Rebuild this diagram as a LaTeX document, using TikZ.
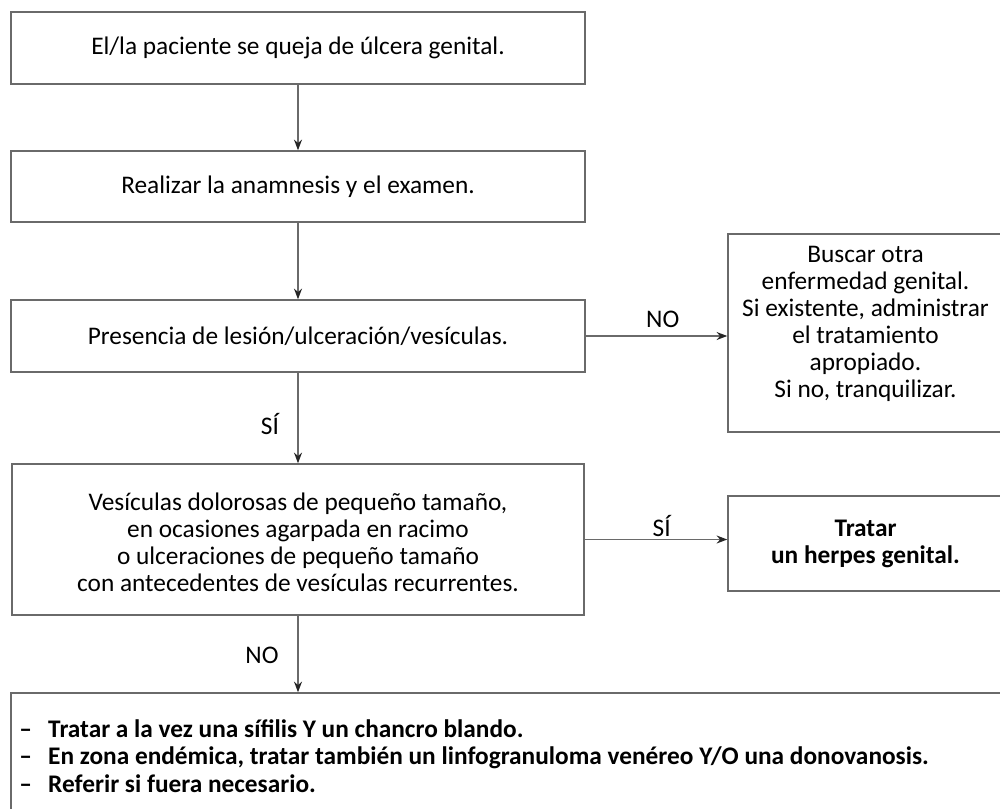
\documentclass[tikz,border=0pt]{standalone}
\usepackage{fontspec}
\setmainfont{Carlito}
\usetikzlibrary{arrows.meta}
\definecolor{edgegray}{HTML}{6A6A6A}
\tikzset{
  box/.style={draw=edgegray, line width=1.1pt, align=center, inner sep=0pt,
    font=\fontsize{19}{20.3}\selectfont},
  arrow/.style={draw=edgegray, line width=1.1pt, -{Stealth[length=8pt,width=6pt,color=black!85]}},
  lbl/.style={font=\fontsize{19}{20}\selectfont, inner sep=0pt},
}
\begin{document}
\begin{tikzpicture}[x=0.75pt,y=-0.75pt]
    \useasboundingbox (0,0) rectangle (1000,808);
    \node[box, minimum width=430.5pt, minimum height=54pt] (queja) at (298,48) {El/la paciente se queja de úlcera genital.};
    \node[box, minimum width=430.5pt, minimum height=53.25pt] (examen) at (298,186.5) {Realizar la anamnesis y el examen.};
    \node[box, minimum width=430.5pt, minimum height=54pt] (lesion) at (298,336) {Presencia de lesión/ulceración/vesículas.};
    \node[box, minimum width=429pt, minimum height=113.25pt] (vesic) at (298,539.5) {};
    \node[align=center, inner sep=0pt, font=\fontsize{19}{20.3}\selectfont] (vesictxt) at (298,542) {Vesículas dolorosas de pequeño tamaño,\\ en ocasiones agarpada en racimo\\ o ulceraciones de pequeño tamaño\\ con antecedentes de vesículas recurrentes.};
    \node[box, minimum width=206.25pt, minimum height=148.5pt] (otra) at (865.5,333) {};
    \node[align=center, inner sep=0pt, font=\fontsize{19}{20.3}\selectfont] (otratxt) at (865.5,324) {Buscar otra\\ enfermedad genital.\\ Si existente, administrar\\ el tratamiento\\ apropiado.\\ Si no, tranquilizar.};
    \node[box, minimum width=206.25pt, minimum height=71.25pt, font=\fontsize{19}{20.3}\selectfont\bfseries] (herpes) at (865.5,543.5) {Tratar\\ un herpes genital.};
    \node[box, minimum width=749.25pt, minimum height=102.75pt] (sifilis) at (510.5,761.5) {};
    \node[anchor=west, align=left, inner sep=0pt, font=\fontsize{19}{20.6}\selectfont\bfseries] (pasos) at (19,756)
      {\makebox[21.75pt][l]{–}Tratar a la vez una sífilis Y un chancro blando.\\
       \makebox[21.75pt][l]{–}En zona endémica, tratar también un linfogranuloma venéreo Y/O una donovanosis.\\
       \makebox[21.75pt][l]{–}Referir si fuera necesario.};

    \draw[arrow] (queja) -- (examen);
    \draw[arrow] (examen) -- (lesion);
    \draw[arrow] (lesion) -- (vesic);
    \draw[arrow] (vesic.south) -- (vesic.south |- sifilis.north);
    \draw[arrow] (lesion.east) -- (lesion.east -| otra.west);
    \draw[arrow] (vesic.east) -- (vesic.east -| herpes.west);
    \draw (lesion.south) +(-28,51) node[lbl] (si1) {SÍ};
    \draw (vesic.south) +(-36,40) node[lbl] (no2) {NO};
    \draw (lesion.east) +(77,-17) node[lbl] (no1) {NO};
    \draw (vesic.east) +(77,-14) node[lbl] (si2) {SÍ};
\end{tikzpicture}
\end{document}
